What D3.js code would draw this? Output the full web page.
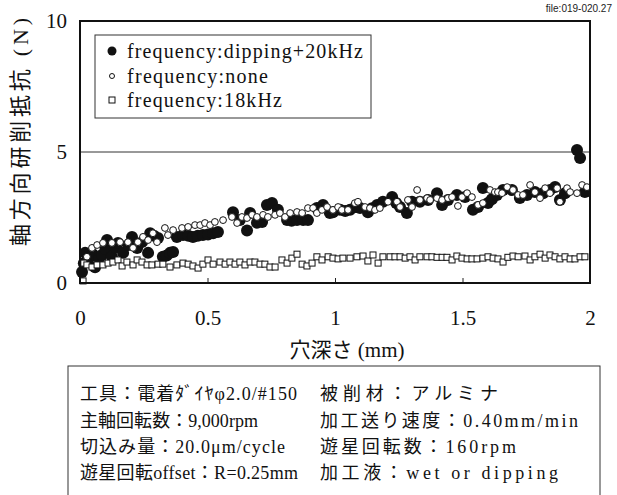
<!DOCTYPE html>
<html>
<head>
<meta charset="utf-8">
<script src="https://cdn.jsdelivr.net/npm/d3@7"></script>
<style>
  body { margin: 0; background: #fff; }
  svg { display: block; }
</style>
</head>
<body>
<div class="content"></div>
<script>
const width = 617
const height = 495

// series: [depth (mm), force (N)]
const dipping20k = [
  [0.008, 0.42], [0.015, 0.75], [0.02, 1.15], [0.035, 0.95], [0.05, 1.1], [0.059, 0.6],
  [0.075, 0.95], [0.086, 1.07], [0.1, 1.3], [0.106, 1.64], [0.125, 1.0], [0.138, 1.35],
  [0.149, 1.53], [0.169, 1.15], [0.19, 1.45], [0.204, 1.76], [0.224, 1.34], [0.243, 1.56],
  [0.267, 1.15], [0.275, 1.9], [0.29, 1.8], [0.306, 1.72], [0.325, 1.0], [0.34, 1.05],
  [0.353, 1.15], [0.365, 1.18], [0.38, 1.76], [0.404, 1.83], [0.425, 1.8], [0.443, 1.76],
  [0.462, 1.8], [0.482, 1.83], [0.502, 1.85], [0.522, 1.9], [0.541, 1.95], [0.6, 2.7],
  [0.627, 2.4], [0.655, 2.0], [0.667, 2.67], [0.694, 2.3], [0.714, 2.33], [0.733, 2.98],
  [0.753, 3.05], [0.776, 2.8], [0.812, 2.4], [0.83, 2.38], [0.851, 2.4], [0.875, 2.4],
  [0.894, 2.4], [0.929, 2.86], [0.953, 2.98], [0.98, 2.67], [0.992, 2.7], [1.02, 2.8],
  [1.04, 2.75], [1.059, 2.8], [1.08, 2.9], [1.098, 2.86], [1.129, 2.7], [1.145, 2.85],
  [1.165, 2.98], [1.188, 3.1], [1.224, 3.28], [1.24, 3.05], [1.255, 2.9], [1.282, 2.67],
  [1.302, 3.1], [1.333, 3.1], [1.365, 3.17], [1.4, 3.43], [1.42, 2.98], [1.443, 3.17],
  [1.478, 3.36], [1.51, 3.28], [1.541, 2.8], [1.561, 2.9], [1.58, 3.63], [1.6, 3.05],
  [1.615, 3.2], [1.635, 3.36], [1.659, 3.55], [1.694, 3.55], [1.725, 3.24], [1.753, 3.36],
  [1.784, 3.47], [1.816, 3.43], [1.843, 3.55], [1.863, 3.66], [1.882, 3.17], [1.902, 3.43],
  [1.949, 5.08], [1.961, 4.77], [1.98, 3.47]
]
const noFreq = [
  [0.012, 0.76], [0.027, 1.0], [0.047, 1.34], [0.067, 1.45], [0.09, 1.53], [0.125, 1.53],
  [0.157, 1.56], [0.188, 1.56], [0.208, 1.34], [0.227, 1.56], [0.247, 1.76], [0.267, 1.64],
  [0.286, 1.9], [0.302, 1.56], [0.333, 2.1], [0.345, 1.83], [0.365, 2.02], [0.4, 2.1],
  [0.424, 2.14], [0.451, 2.21], [0.471, 2.21], [0.49, 2.29], [0.51, 2.21], [0.529, 2.33],
  [0.561, 2.4], [0.596, 2.52], [0.616, 2.29], [0.635, 2.52], [0.655, 2.48], [0.675, 2.6],
  [0.694, 2.52], [0.718, 2.6], [0.737, 2.52], [0.765, 2.6], [0.784, 2.67], [0.804, 2.52],
  [0.824, 2.67], [0.851, 2.71], [0.871, 2.67], [0.894, 2.86], [0.914, 2.86], [0.929, 2.67],
  [0.949, 2.79], [0.969, 2.9], [0.992, 2.79], [1.012, 2.9], [1.027, 2.79], [1.051, 2.79],
  [1.078, 3.05], [1.09, 3.1], [1.118, 2.9], [1.137, 2.86], [1.157, 2.79], [1.176, 2.86],
  [1.208, 3.1], [1.243, 3.1], [1.255, 2.9], [1.286, 3.17], [1.302, 2.9], [1.322, 3.55],
  [1.333, 3.17], [1.361, 3.24], [1.373, 3.17], [1.4, 3.24], [1.42, 3.17], [1.443, 3.24],
  [1.459, 3.28], [1.482, 2.94], [1.498, 3.28], [1.518, 3.43], [1.537, 3.28], [1.561, 2.98],
  [1.58, 3.05], [1.608, 3.55], [1.627, 3.47], [1.639, 3.47], [1.655, 3.43], [1.675, 3.66],
  [1.698, 3.55], [1.718, 3.36], [1.737, 3.36], [1.765, 3.74], [1.784, 3.47], [1.804, 3.24],
  [1.824, 3.62], [1.843, 3.43], [1.871, 3.62], [1.882, 3.1], [1.91, 3.62], [1.922, 3.47],
  [1.949, 3.43], [1.969, 3.74], [1.988, 3.66]
]
const freq18k = [
  [0.012, 0.08], [0.015, 0.76], [0.027, 0.69], [0.047, 0.61], [0.067, 0.69], [0.09, 0.69],
  [0.11, 0.76], [0.129, 0.8], [0.149, 0.88], [0.165, 0.65], [0.184, 0.8], [0.208, 0.69],
  [0.224, 0.88], [0.243, 0.8], [0.263, 0.69], [0.282, 0.69], [0.306, 0.72], [0.325, 0.72],
  [0.353, 0.61], [0.38, 0.69], [0.404, 0.76], [0.424, 0.72], [0.443, 0.65], [0.463, 0.57],
  [0.482, 0.72], [0.502, 0.88], [0.522, 0.72], [0.549, 0.8], [0.569, 0.72], [0.588, 0.8],
  [0.608, 0.72], [0.627, 0.8], [0.647, 0.69], [0.667, 0.8], [0.686, 0.8], [0.706, 0.72],
  [0.725, 0.72], [0.745, 0.61], [0.765, 0.61], [0.792, 0.88], [0.812, 0.76], [0.831, 0.95],
  [0.851, 1.1], [0.871, 0.72], [0.89, 0.65], [0.91, 0.76], [0.929, 1.0], [0.949, 0.88],
  [0.973, 1.0], [0.992, 0.95], [1.012, 0.92], [1.031, 0.95], [1.059, 0.95], [1.086, 1.0],
  [1.11, 1.03], [1.129, 0.84], [1.149, 1.07], [1.169, 0.76], [1.188, 1.0], [1.216, 1.0],
  [1.235, 1.0], [1.255, 1.0], [1.275, 0.95], [1.294, 1.0], [1.314, 0.88], [1.333, 1.0],
  [1.361, 1.0], [1.38, 1.0], [1.4, 0.98], [1.42, 0.98], [1.439, 0.98], [1.459, 0.88],
  [1.478, 1.03], [1.498, 0.95], [1.518, 0.92], [1.537, 0.92], [1.557, 0.92], [1.58, 0.95],
  [1.6, 1.0], [1.62, 0.95], [1.639, 0.92], [1.659, 0.8], [1.678, 0.98], [1.698, 1.03],
  [1.718, 1.0], [1.745, 1.03], [1.765, 0.88], [1.784, 1.0], [1.804, 1.1], [1.824, 0.95],
  [1.843, 1.07], [1.863, 1.0], [1.882, 0.92], [1.902, 1.0], [1.922, 0.92], [1.941, 0.92],
  [1.961, 1.0], [1.98, 1.0]
]

const xTicks = [0, 0.5, 1, 1.5, 2]
const yTicks = [0, 5, 10]
const legendLabels = ['frequency:dipping+20kHz', 'frequency:none', 'frequency:18kHz']
const xTitle = '穴深さ (mm)'
const yTitle = '軸方向研削抵抗 (N)'
const fileLabel = 'file:019-020.27'
const infoLeft = ['工具：電着ﾀﾞｲﾔφ2.0/#150', '主軸回転数：9,000rpm', '切込み量：20.0μm/cycle', '遊星回転offset：R=0.25mm']
const infoRight = ['被削材：アルミナ', '加工送り速度：0.40mm/min', '遊星回転数：160rpm', '加工液：wet or dipping']

const serif = '"Liberation Serif", "Noto Sans CJK JP", serif'
const plotLeft = 80
const plotRight = 590
const plotTop = 21
const plotBottom = 283

const x = d3.scaleLinear().domain([0, 2]).range([plotLeft, plotRight])
const y = d3.scaleLinear().domain([0, 10]).range([plotBottom, plotTop])

const svg = d3.select('div.content')
  .append('svg')
  .attr('width', width)
  .attr('height', height)

// gridline at 5
svg.append('line')
  .attr('x1', plotLeft).attr('x2', plotRight)
  .attr('y1', y(5)).attr('y2', y(5))
  .attr('stroke', '#333')
  .attr('stroke-width', 1)

// x axis, ticks pointing in
const xAxis = svg.append('g')
  .attr('transform', `translate(0,${plotBottom})`)
  .call(d3.axisBottom(x).tickValues(xTicks).tickSizeInner(-5).tickSizeOuter(0).tickPadding(27)
    .tickFormat(d => d3.format('')(d)))
xAxis.select('.domain').remove()
xAxis.selectAll('text').attr('font-family', serif).attr('font-size', 21).attr('fill', '#111')
xAxis.selectAll('line').attr('stroke', '#222')

const yAxis = svg.append('g')
  .attr('transform', `translate(${plotLeft},0)`)
  .call(d3.axisLeft(y).tickValues(yTicks).tickSize(0).tickPadding(13))
yAxis.select('.domain').remove()
yAxis.selectAll('text').attr('font-family', serif).attr('font-size', 21).attr('fill', '#111')

// points
svg.append('g').selectAll('circle')
  .data(dipping20k)
  .join('circle')
  .attr('cx', d => x(d[0]))
  .attr('cy', d => y(d[1]))
  .attr('r', 6)
  .attr('fill', '#111')

svg.append('g').selectAll('circle')
  .data(noFreq)
  .join('circle')
  .attr('cx', d => x(d[0]))
  .attr('cy', d => y(d[1]))
  .attr('r', 3.4)
  .attr('fill', '#fff')
  .attr('stroke', '#111')
  .attr('stroke-width', 1)

svg.append('g').selectAll('rect')
  .data(freq18k)
  .join('rect')
  .attr('x', d => x(d[0]) - 3)
  .attr('y', d => y(d[1]) - 3)
  .attr('width', 6)
  .attr('height', 6)
  .attr('fill', '#fff')
  .attr('stroke', '#111')
  .attr('stroke-width', 1)

// frame
svg.append('rect')
  .attr('x', plotLeft).attr('y', plotTop)
  .attr('width', plotRight - plotLeft).attr('height', plotBottom - plotTop)
  .attr('fill', 'none')
  .attr('stroke', '#111')
  .attr('stroke-width', 2)

// legend
const legend = svg.append('g')
legend.append('rect')
  .attr('x', 95).attr('y', 35).attr('width', 276).attr('height', 83)
  .attr('fill', '#fff').attr('stroke', '#333').attr('stroke-width', 1)
const rowY = [51, 76, 100]
const legendLen = [236, 141, 155]
legend.append('circle').attr('cx', 112).attr('cy', rowY[0]).attr('r', 4.5).attr('fill', '#111')
legend.append('circle').attr('cx', 112).attr('cy', rowY[1]).attr('r', 2.5)
  .attr('fill', '#fff').attr('stroke', '#111')
legend.append('rect').attr('x', 109).attr('y', rowY[2] - 3).attr('width', 6).attr('height', 6)
  .attr('fill', '#fff').attr('stroke', '#111')
legend.selectAll('text')
  .data(legendLabels)
  .join('text')
  .attr('x', 127)
  .attr('y', (d, i) => rowY[i])
  .attr('dy', '0.35em')
  .attr('font-family', serif)
  .attr('font-size', 20)
  .attr('fill', '#111')
  .attr('textLength', (d, i) => legendLen[i])
  .attr('lengthAdjust', 'spacing')
  .text(d => d)

// axis titles
svg.append('text')
  .attr('x', 347)
  .attr('y', 357)
  .attr('text-anchor', 'middle')
  .attr('font-family', serif)
  .attr('font-size', 21)
  .attr('fill', '#111')
  .attr('textLength', 115)
  .text(xTitle)

svg.append('text')
  .attr('transform', 'translate(28,132) rotate(-90)')
  .attr('text-anchor', 'middle')
  .attr('font-family', serif)
  .attr('font-size', 22)
  .attr('fill', '#111')
  .attr('textLength', 228)
  .text(yTitle)

svg.append('text')
  .attr('x', 612).attr('y', 12)
  .attr('text-anchor', 'end')
  .attr('font-family', '"Liberation Sans Narrow", "Liberation Sans", sans-serif')
  .attr('font-size', 10)
  .attr('fill', '#222')
  .text(fileLabel)

// condition box
svg.append('rect')
  .attr('x', 68).attr('y', 366).attr('width', 532).attr('height', 140)
  .attr('fill', 'none').attr('stroke', '#333').attr('stroke-width', 1)
const infoY = [394, 421, 447, 473]
const leftLen = [217, 178, 205, 218]
const rightLen = [178, 258, 196, 238]
svg.append('g').selectAll('text')
  .data(infoLeft)
  .join('text')
  .attr('x', 80)
  .attr('y', (d, i) => infoY[i])
  .attr('dy', '0.35em')
  .attr('font-family', serif)
  .attr('font-size', 18)
  .attr('fill', '#111')
  .attr('textLength', (d, i) => leftLen[i])
  .attr('lengthAdjust', 'spacing')
  .text(d => d)
svg.append('g').selectAll('text')
  .data(infoRight)
  .join('text')
  .attr('x', 320)
  .attr('y', (d, i) => infoY[i])
  .attr('dy', '0.35em')
  .attr('font-family', serif)
  .attr('font-size', 18)
  .attr('fill', '#111')
  .attr('textLength', (d, i) => rightLen[i])
  .attr('lengthAdjust', 'spacing')
  .text(d => d)
</script>
</body>
</html>
